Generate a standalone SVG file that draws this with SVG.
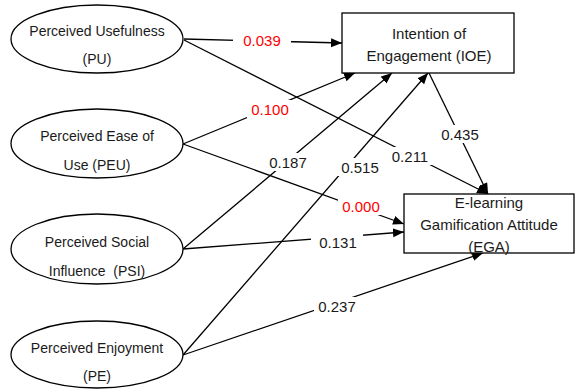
<svg xmlns="http://www.w3.org/2000/svg" width="575" height="389" viewBox="0 0 575 389">
<style>
  .node ellipse, .node rect { fill: #fff; stroke: #000; stroke-width: 1.3; }
  .ntext { font-family: "Liberation Sans", Arial, sans-serif; font-size: 14px; fill: #1a1a1a; text-anchor: middle; }
  .btext { font-family: "Liberation Sans", Arial, sans-serif; font-size: 15px; fill: #1a1a1a; text-anchor: middle; }
  .conn line { stroke: #000; stroke-width: 1.3; marker-end: url(#arrow); }
  .lbl rect { fill: #fff; stroke: none; }
  .lbl text { font-family: "Liberation Sans", Arial, sans-serif; font-size: 15px; text-anchor: middle; fill: #1a1a1a; }
  .lbl text.red { fill: #ff0000; }
</style>
<defs>
  <marker id="arrow" markerUnits="userSpaceOnUse" markerWidth="12" markerHeight="10" refX="11" refY="4.5" orient="auto">
    <path d="M0,0 L11,4.5 L0,9 z" fill="#000"/>
  </marker>
</defs>
<rect x="0" y="0" width="575" height="389" fill="#fff"/>

<g id="connectors" class="conn">
  <line x1="184" y1="39" x2="342" y2="43"/>
  <line x1="184" y1="40" x2="488" y2="194"/>
  <line x1="183" y1="144" x2="355" y2="73"/>
  <line x1="183" y1="144" x2="404" y2="224"/>
  <line x1="183" y1="249" x2="392" y2="73"/>
  <line x1="183" y1="249" x2="404" y2="232"/>
  <line x1="183" y1="355" x2="428" y2="73"/>
  <line x1="183" y1="355" x2="483" y2="253"/>
  <line x1="429" y1="73" x2="488" y2="194"/>
</g>

<g id="labels" class="lbl">
  <rect x="233" y="32" width="58" height="18"/><text class="red" x="262" y="46">0.039</text>
  <rect x="247" y="100" width="46" height="18"/><text class="red" x="270" y="115">0.100</text>
  <rect x="265" y="153" width="46" height="18"/><text x="288" y="168">0.187</text>
  <rect x="337" y="158" width="46" height="18"/><text x="360" y="173">0.515</text>
  <rect x="387" y="147" width="46" height="18"/><text x="410" y="162">0.211</text>
  <rect x="437" y="125" width="46" height="18"/><text x="460" y="140">0.435</text>
  <rect x="338" y="197" width="46" height="18"/><text class="red" x="361" y="212">0.000</text>
  <rect x="311" y="233" width="52" height="18"/><text x="338" y="248">0.131</text>
  <rect x="314" y="297" width="46" height="18"/><text x="337" y="312">0.237</text>
</g>

<g id="PU" class="node">
  <ellipse cx="97" cy="39" rx="86" ry="34"/>
  <text class="ntext" x="97" y="36">Perceived Usefulness</text>
  <text class="ntext" x="97" y="64">(PU)</text>
</g>
<g id="PEU" class="node">
  <ellipse cx="97" cy="143.5" rx="86" ry="34.5"/>
  <text class="ntext" x="97" y="141">Perceived Ease of</text>
  <text class="ntext" x="97" y="170">Use (PEU)</text>
</g>
<g id="PSI" class="node">
  <ellipse cx="97" cy="249" rx="86" ry="35"/>
  <text class="ntext" x="97" y="247">Perceived Social</text>
  <text class="ntext" x="97" y="276" xml:space="preserve">Influence  (PSI)</text>
</g>
<g id="PE" class="node">
  <ellipse cx="97" cy="354.5" rx="86" ry="33.5"/>
  <text class="ntext" x="97" y="353">Perceived Enjoyment</text>
  <text class="ntext" x="97" y="381">(PE)</text>
</g>

<g id="IOE" class="node">
  <rect x="342" y="13" width="172" height="60"/>
  <text class="btext" x="429" y="39">Intention of</text>
  <text class="btext" x="429" y="61">Engagement (IOE)</text>
</g>
<g id="EGA" class="node">
  <rect x="404" y="194" width="170" height="59"/>
  <text class="btext" x="489" y="208">E-learning</text>
  <text class="btext" x="489" y="230">Gamification Attitude</text>
  <text class="btext" x="489" y="252">(EGA)</text>
</g>
</svg>
